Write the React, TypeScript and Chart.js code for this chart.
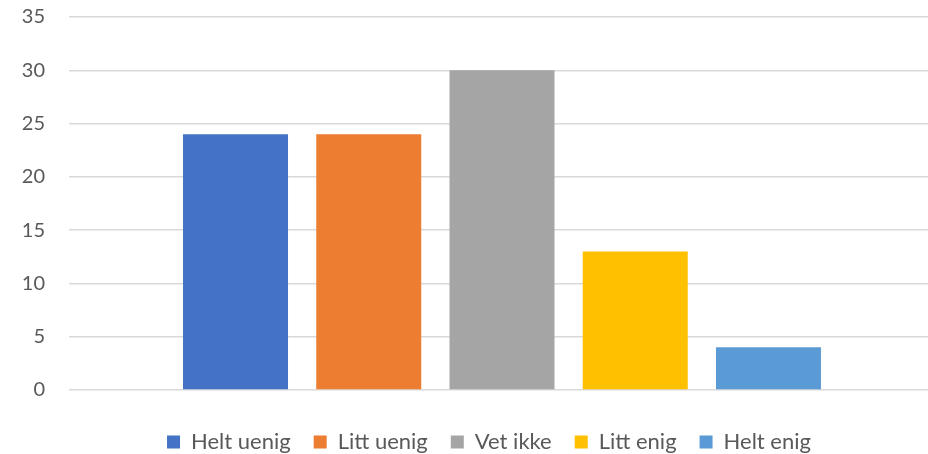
import React, { useEffect, useRef } from "react";
import { Chart, registerables } from "chart.js";

Chart.register(...registerables);

const categories = [""];
const seriesNames = ["Helt uenig", "Litt uenig", "Vet ikke", "Litt enig", "Helt enig"];
const seriesValues = [24, 24, 30, 13, 4];
const seriesColors = ["#4472C4", "#ED7D31", "#A5A5A5", "#FFC000", "#5B9BD5"];
const yTicks = { min: 0, max: 35, step: 5 };

const PAD_LEFT = 20;
const PLOT_LEFT = 69;
const LEGEND_CENTER = 489;

const legendShift = {
  id: "legendShift",
  afterLayout(chart: any) {
    const lg = chart.legend;
    if (!lg) return;
    const center = (lg.left + lg.right) / 2;
    const d = LEGEND_CENTER - center;
    lg.left += d;
    lg.right += d;
  },
};

export default function App() {
  const ref = useRef<HTMLCanvasElement | null>(null);

  useEffect(() => {
    document.documentElement.style.overflow = "hidden";
    document.body.style.margin = "0";
    document.body.style.overflow = "hidden";
    const canvas = ref.current;
    if (!canvas) return;
    const chart = new Chart(canvas, {
      type: "bar",
      data: {
        labels: categories,
        datasets: seriesNames.map((name, i) => ({
          label: name,
          data: [seriesValues[i]],
          backgroundColor: seriesColors[i],
          borderWidth: 0,
          categoryPercentage: 0.7693,
          barPercentage: 0.788,
        })),
      },
      plugins: [legendShift],
      options: {
        responsive: false,
        animation: false,
        layout: { padding: { left: PAD_LEFT, right: 0, top: 17, bottom: -9 } },
        plugins: {
          tooltip: { enabled: false },
          legend: {
            position: "bottom",
            labels: {
              boxWidth: 13,
              boxHeight: 13,
              padding: 23,
              color: "#595959",
              font: { family: "Lato", size: 22 },
            },
          },
        },
        scales: {
          x: {
            grid: { display: false },
            border: { display: false },
            ticks: { display: false },
            afterFit: (scale: any) => {
              scale.height = 18;
            },
          },
          y: {
            min: yTicks.min,
            max: yTicks.max,
            ticks: {
              stepSize: yTicks.step,
              padding: 24,
              color: "#595959",
              font: { family: "Lato", size: 20 },
            },
            grid: { color: "#D9D9D9", lineWidth: 1.5, drawTicks: false },
            border: { display: false },
            afterFit: (scale: any) => {
              scale.width = PLOT_LEFT - PAD_LEFT;
              scale.paddingTop = 0;
              scale.paddingBottom = 0;
            },
          },
        },
      },
    });
    return () => chart.destroy();
  }, []);

  return <canvas ref={ref} width={935} height={454} style={{ display: "block" }} />;
}
